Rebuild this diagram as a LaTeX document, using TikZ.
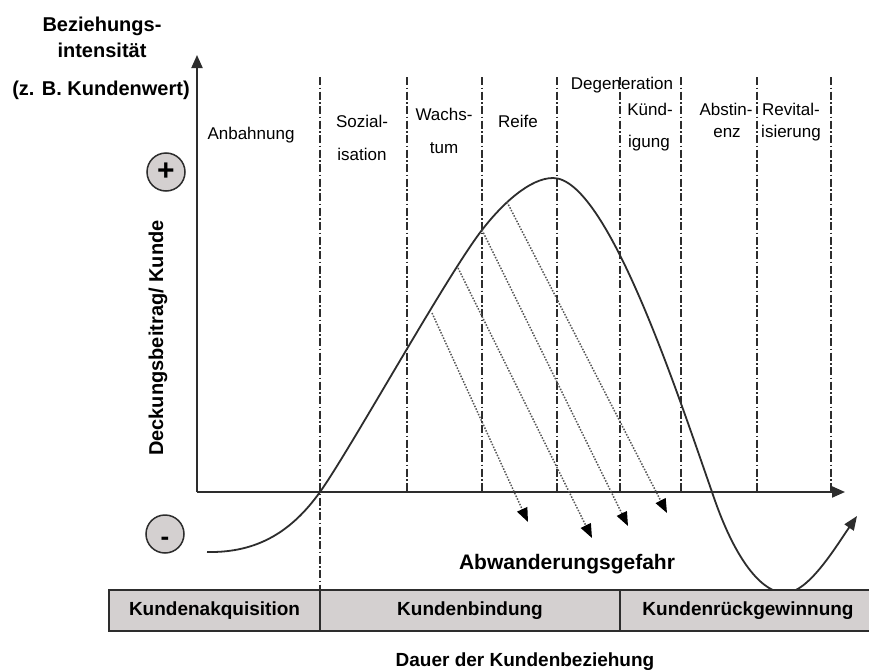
\documentclass[tikz,border=0pt]{standalone}
\usepackage{fontspec}
\setmainfont{Liberation Sans}
\usetikzlibrary{arrows.meta}

\definecolor{panel}{RGB}{212,208,208}
\definecolor{ink}{RGB}{45,45,45}
\definecolor{dotgray}{RGB}{85,85,85}

\tikzset{
  phase/.style={ink, line width=1.3pt, dash pattern=on 8pt off 2.5pt on 1.5pt off 2.5pt},
  axis/.style={ink, line width=2pt, -{Triangle[length=13pt,width=11pt]}},
  lifecurve/.style={ink, line width=1.8pt},
  churn/.style={dotgray, line width=1.5pt, dash pattern=on 1.5pt off 1.5pt,
                -{Triangle[length=14pt,width=11pt,fill=black,color=black]}},
  lbl/.style={inner sep=0pt, anchor=base, font=\fontsize{17}{20}\selectfont},
  head/.style={inner sep=0pt, anchor=base, font=\fontsize{20}{24}\selectfont\bfseries},
  sign/.style={circle, draw=ink, fill=panel, line width=1.5pt, minimum size=38pt, inner sep=0pt},
  cell/.style={draw=ink, fill=panel, line width=1.5pt, minimum height=41pt, inner sep=0pt,
               text height=13.6pt, text depth=4pt, font=\fontsize{19}{22}\selectfont\bfseries},
}

\begin{document}
\begin{tikzpicture}[x=1pt,y=-1pt]
  \useasboundingbox (0,0) rectangle (869,669);
  \fill[white] (0,0) rectangle (869,669);

  % phase boundaries
  \foreach \px in {407,482,557,620,681,757,831}
    \draw[phase] (\px,77) -- (\px,492);
  \draw[phase] (320,77) -- (320,590);

  % axes
  \coordinate (O) at (197,492);
  \coordinate (ytip) at (197,55);
  \coordinate (xtip) at (845,492);
  \draw[axis] (O) -- (ytip);
  \draw[axis] (O) -- (xtip);

  % customer value curve
  \coordinate (k0) at (207,552);
  \coordinate (k1) at (320,492);
  \coordinate (k2) at (482,230);
  \coordinate (k3) at (553,178);
  \coordinate (k4) at (712,492);
  \coordinate (k5) at (785,593);
  \coordinate (k6) at (857,516);
  \draw[lifecurve, -{Triangle[length=14pt,width=11pt]}]
    (k0) .. controls (258,553) and (292,531) .. (k1)
         .. controls (350,450) and (447,275) .. (k2)
         .. controls (502,204) and (530,178) .. (k3)
         .. controls (607,178) and (677,392) .. (k4)
         .. controls (737,567) and (765,593) .. (k5)
         .. controls (808,593) and (835,548) .. (k6);

  % churn risk arrows
  \coordinate (s1) at (432,313);
  \coordinate (s2) at (458,268);
  \coordinate (s3) at (482,230);
  \coordinate (s4) at (507,202);
  \coordinate (e1) at (528,522);
  \coordinate (e2) at (592,538);
  \coordinate (e3) at (628,526);
  \coordinate (e4) at (667,513);
  \draw[churn] (s1) -- (e1);
  \draw[churn] (s2) -- (e2);
  \draw[churn] (s3) -- (e3);
  \draw[churn] (s4) -- (e4);

  % axis titles
  \node[head] (t1) at (102,32) {Beziehungs-};
  \node[head] (t2) at (102,58) {intensität};
  \node[head] (t3) at (101,95) {(z. B. Kundenwert)};
  \node[inner sep=0pt, anchor=base, rotate=90, font=\fontsize{20}{24}\selectfont\bfseries]
    (ylab) at (163,338) {Deckungsbeitrag/ Kunde};

  % plus / minus markers
  \node[sign, font=\fontsize{30}{30}\selectfont\bfseries] (plus) at (166,172) {+};
  \node[sign, text height=25pt, text depth=3pt, font=\fontsize{26}{26}\selectfont\bfseries]
    (minus) at (165,534) {-};

  % phase names
  \node[lbl] (p1) at (251,139) {Anbahnung};
  \node[lbl] (p2a) at (362,127) {Sozial-};
  \node[lbl] (p2b) at (362,160) {isation};
  \node[lbl] (p3a) at (444,120) {Wachs-};
  \node[lbl] (p3b) at (444,153) {tum};
  \node[lbl] (p4) at (518,127) {Reife};
  \node[lbl] (p5) at (622,89) {Degeneration};
  \node[lbl] (p6a) at (650,115) {Künd-};
  \node[lbl] (p6b) at (649,147) {igung};
  \node[lbl] (p7a) at (726,115) {Abstin-};
  \node[lbl] (p7b) at (727,137) {enz};
  \node[lbl] (p8a) at (791,115) {Revital-};
  \node[lbl] (p8b) at (791,137) {isierung};

  % churn label
  \node[inner sep=0pt, anchor=base, font=\fontsize{21}{24}\selectfont\bfseries]
    (churnlbl) at (567,569) {Abwanderungsgefahr};

  % management phases bar
  \node[cell, minimum width=211pt] (b1) at (214.5,610.5) {Kundenakquisition};
  \node[cell, minimum width=300pt] (b2) at (470,610.5) {Kundenbindung};
  \node[cell, minimum width=256pt] (b3) at (748,610.5) {Kundenrückgewinnung};

  % time axis title
  \node[inner sep=0pt, anchor=base, font=\fontsize{19}{22}\selectfont\bfseries]
    (xlab) at (525,666) {Dauer der Kundenbeziehung};
\end{tikzpicture}
\end{document}
